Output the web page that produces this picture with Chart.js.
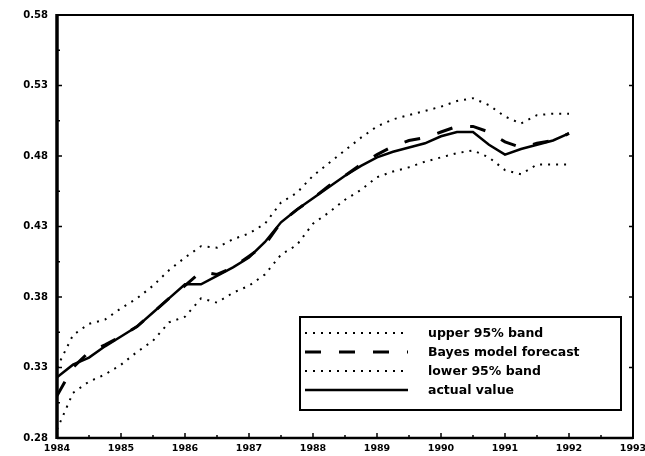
<!DOCTYPE html>
<html><head><meta charset="utf-8">
<script src="https://cdn.jsdelivr.net/npm/chart.js@4/dist/chart.umd.min.js"></script>
<style>html,body{margin:0;padding:0;background:#fff}</style>
</head><body>
<canvas id="c" width="645" height="456"></canvas>
<script>
const quarters = [1984,1984.25,1984.5,1984.75,1985,1985.25,1985.5,1985.75,1986,1986.25,1986.5,1986.75,1987,1987.25,1987.5,1987.75,1988,1988.25,1988.5,1988.75,1989,1989.25,1989.5,1989.75,1990,1990.25,1990.5,1990.75,1991,1991.25,1991.5,1991.75,1992];
const upperBand = [0.330,0.353,0.361,0.364,0.372,0.379,0.388,0.399,0.408,0.416,0.415,0.421,0.425,0.432,0.447,0.454,0.466,0.475,0.484,0.493,0.501,0.506,0.509,0.512,0.515,0.519,0.521,0.516,0.508,0.503,0.509,0.510,0.510];
const bayesForecast = [0.310,0.330,0.341,0.346,0.352,0.359,0.369,0.379,0.388,0.398,0.396,0.401,0.409,0.417,0.433,0.442,0.450,0.459,0.466,0.474,0.481,0.487,0.491,0.493,0.497,0.501,0.501,0.497,0.490,0.486,0.489,0.491,0.496];
const lowerBand = [0.286,0.312,0.320,0.325,0.332,0.341,0.349,0.362,0.366,0.379,0.376,0.383,0.388,0.396,0.410,0.417,0.432,0.440,0.449,0.456,0.465,0.469,0.472,0.476,0.479,0.482,0.484,0.479,0.470,0.467,0.474,0.474,0.474];
const actualValue = [0.323,0.332,0.337,0.345,0.352,0.359,0.369,0.379,0.389,0.389,0.395,0.401,0.408,0.419,0.433,0.442,0.450,0.458,0.466,0.473,0.479,0.483,0.486,0.489,0.494,0.497,0.497,0.488,0.481,0.485,0.488,0.491,0.496];
const yTicks = [0.28,0.33,0.38,0.43,0.48,0.53,0.58];
const xTicks = [1984,1985,1986,1987,1988,1989,1990,1991,1992,1993];
const seriesLabels = ['upper 95% band','Bayes model forecast','lower 95% band','actual value'];

const pts = arr => arr.map((v,i)=>({x:quarters[i], y:v}));
const dotted = [2,6];

const framePlugin = {
  id:'frame',
  afterDraw(chart){
    const {ctx, chartArea:a, scales:{x,y}} = chart;
    ctx.save();
    ctx.strokeStyle='#000';
    ctx.setLineDash([]);
    ctx.lineWidth=2;
    ctx.strokeRect(a.left, a.top, a.right-a.left, a.bottom-a.top);
    ctx.lineWidth=3.5;
    ctx.beginPath(); ctx.moveTo(a.left, a.top-1); ctx.lineTo(a.left, a.bottom+1); ctx.stroke();
    ctx.lineWidth=2.5;
    ctx.beginPath(); ctx.moveTo(a.left, a.bottom); ctx.lineTo(a.right, a.bottom); ctx.stroke();
    ctx.lineWidth=1.5;
    ctx.beginPath();
    for(let k=0;k<=12;k++){
      const v = yTicks[0] + k*(yTicks[1]-yTicks[0])/2;
      const py = y.getPixelForValue(v);
      const len = k%2===0 ? 5 : 3;
      ctx.moveTo(a.left, py); ctx.lineTo(a.left+len, py);
      if(k%2===0){ ctx.moveTo(a.right, py); ctx.lineTo(a.right-4, py); }
    }
    for(let k=0;k<=18;k++){
      const v = xTicks[0] + k*0.5;
      const px = x.getPixelForValue(v);
      const len = k%2===0 ? 5 : 3;
      ctx.moveTo(px, a.bottom); ctx.lineTo(px, a.bottom-len);
    }
    ctx.stroke();
    const bx = a.right-333, by = a.bottom-121, bw = 321, bh = 93;
    ctx.fillStyle='#fff';
    ctx.fillRect(bx, by, bw, bh);
    ctx.lineWidth=2;
    ctx.strokeRect(bx, by, bw, bh);
    ctx.font='bold 12.5px "DejaVu Sans", sans-serif';
    ctx.textBaseline='middle';
    ctx.textAlign='left';
    chart.data.datasets.forEach((ds,i)=>{
      const ry = by + 16 + i*19;
      ctx.save();
      ctx.strokeStyle = ds.borderColor;
      ctx.lineWidth = ds.borderWidth;
      ctx.setLineDash(ds.borderDash || []);
      ctx.beginPath(); ctx.moveTo(bx+5, ry); ctx.lineTo(bx+108, ry); ctx.stroke();
      ctx.restore();
      ctx.fillStyle='#000';
      ctx.fillText(ds.label, bx+128, ry+1);
    });
    ctx.restore();
  }
};

new Chart(document.getElementById('c'), {
  type:'line',
  data:{
    datasets:[
      {label:seriesLabels[0], data:pts(upperBand), borderColor:'#000', borderWidth:2, borderDash:dotted, pointRadius:0, tension:0, fill:false},
      {label:seriesLabels[1], data:pts(bayesForecast), borderColor:'#000', borderWidth:3, borderDash:[16,18], pointRadius:0, tension:0, fill:false},
      {label:seriesLabels[2], data:pts(lowerBand), borderColor:'#000', borderWidth:2, borderDash:dotted, pointRadius:0, tension:0, fill:false},
      {label:seriesLabels[3], data:pts(actualValue), borderColor:'#000', borderWidth:2.5, pointRadius:0, tension:0, fill:false}
    ]
  },
  options:{
    responsive:false,
    animation:false,
    devicePixelRatio:1,
    layout:{padding:{left:0,right:0,top:15,bottom:0}},
    plugins:{legend:{display:false}, tooltip:{enabled:false}},
    scales:{
      x:{type:'linear', min:1984, max:1993,
         afterBuildTicks(s){ s.ticks = xTicks.map(v=>({value:v})); },
         afterFit(s){ s.height = 18; s.paddingRight = 12; s.paddingLeft = 0; },
         grid:{display:false, drawTicks:false}, border:{display:false},
         ticks:{padding:5, color:'#000', font:{family:'DejaVu Sans', weight:'bold', size:9.5}, callback:v=>String(v), maxRotation:0, autoSkip:false}},
      y:{type:'linear', min:0.28, max:0.58,
         afterBuildTicks(s){ s.ticks = yTicks.map(v=>({value:v})); },
         afterFit(s){ s.width = 57; },
         grid:{display:false, drawTicks:false}, border:{display:false},
         ticks:{padding:9, color:'#000', font:{family:'DejaVu Sans', weight:'bold', size:10}, callback:v=>v.toFixed(2), autoSkip:false}}
    }
  },
  plugins:[framePlugin]
});
</script>
</body></html>
